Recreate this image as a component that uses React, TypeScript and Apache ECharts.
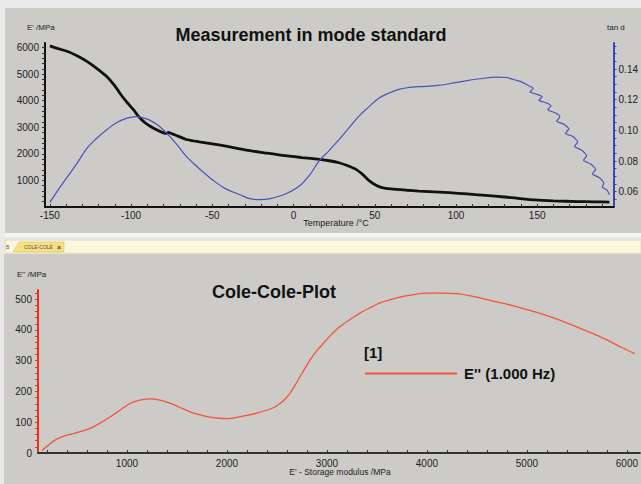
import React, { useEffect, useRef } from "react";
import * as echarts from "echarts";

// ---- Top chart: temperature sweep ----
const storageModulus: [number, number][] = [
  [-150, 6060], [-145, 5960], [-139, 5850], [-133, 5680], [-127, 5470], [-121, 5210],
  [-115, 4910], [-110, 4560], [-107, 4290], [-103, 3970], [-98.6, 3660], [-94.5, 3350],
  [-91, 3150], [-88, 3030], [-84, 2900], [-80, 2790], [-78, 2770], [-77, 2810], [-75, 2760],
  [-70, 2640], [-66, 2540], [-58, 2450], [-50, 2375], [-40, 2270], [-29, 2140], [-18, 2040],
  [-6.7, 1940], [5, 1860], [16, 1790], [22, 1740], [28, 1665], [33, 1560], [38.5, 1415],
  [43, 1200], [46.7, 980], [50.5, 830], [54.5, 730], [60, 680], [70, 630], [77, 600],
  [90, 560], [101.5, 515], [112, 465], [124, 410], [136, 340], [148.5, 265], [160, 230],
  [175, 205], [185, 195], [194.5, 185],
];

// tan d, smooth part
const tanDeltaMain: [number, number][] = [
  [-150, 0.053], [-145, 0.061], [-139, 0.07], [-133, 0.079], [-127, 0.0885], [-121, 0.095],
  [-115, 0.1004], [-109, 0.105], [-102.6, 0.108], [-96.5, 0.109], [-92, 0.108], [-88.3, 0.1065],
  [-83, 0.103], [-78, 0.098], [-72, 0.091], [-66, 0.083], [-58, 0.075], [-50, 0.0678],
  [-42, 0.062], [-33, 0.058], [-27, 0.0555], [-21, 0.0548], [-15, 0.0553], [-8.8, 0.057],
  [-3, 0.0595], [3.4, 0.0635], [10, 0.071], [15.7, 0.08], [22, 0.087], [28, 0.094],
  [34, 0.1015], [40, 0.109], [46, 0.115], [52.5, 0.121], [58, 0.124], [64.7, 0.1267],
  [71, 0.128], [77, 0.1285], [89, 0.1293], [101.5, 0.1315], [113.6, 0.1335], [125.9, 0.1348],
  [131, 0.1345], [136, 0.133], [140, 0.1318],
];
// tan d, wavy tail
const tanDeltaTail: [number, number][] = [
  [140, 0.1318], [145, 0.129], [147.5, 0.1275], [145.5, 0.125],
  [150, 0.1235], [153, 0.122], [151, 0.1195], [155.5, 0.118], [158.5, 0.116], [156.5, 0.1135],
  [161, 0.1115], [164, 0.109], [162, 0.106], [166.5, 0.104], [169.5, 0.101], [167.5, 0.098],
  [172, 0.096], [175, 0.0925], [173, 0.0895], [177.5, 0.087], [180.5, 0.0835], [178.5, 0.0805],
  [183, 0.078], [186, 0.0745], [184, 0.0715], [188.5, 0.069], [191, 0.0655], [190, 0.063],
  [193, 0.061], [194.5, 0.058],
];

const tempLabels = [-150, -100, -50, 0, 50, 100, 150];
const modulusLabels = [1000, 2000, 3000, 4000, 5000, 6000];
const tanLabels = [0.06, 0.08, 0.1, 0.12, 0.14];

// ---- Bottom chart: Cole-Cole plot ----
const coleCole: [number, number][] = [
  [150, 8], [200, 22], [280, 42], [397, 58], [500, 66], [630, 80], [730, 97], [830, 117],
  [930, 139], [1030, 161], [1130, 172], [1230, 176], [1330, 172], [1430, 162], [1530, 148],
  [1630, 134], [1730, 124], [1830, 117], [1930, 113], [2000, 112], [2100, 116], [2197, 122],
  [2300, 130], [2397, 139], [2470, 148], [2530, 161], [2580, 175], [2630, 194], [2680, 220],
  [2730, 248], [2780, 275], [2830, 302], [2880, 325], [2930, 344], [3030, 380], [3130, 411],
  [3230, 434], [3330, 455], [3430, 472], [3530, 488], [3650, 500], [3760, 509], [3880, 516],
  [4000, 520], [4150, 520], [4300, 518], [4450, 510], [4600, 499], [4760, 487], [4930, 473],
  [5100, 457], [5260, 440], [5430, 419], [5600, 396], [5720, 380], [5830, 363], [5950, 343],
  [6080, 323],
];
const storageLabels = [1000, 2000, 3000, 4000, 5000, 6000];
const lossLabels = [0, 100, 200, 300, 400, 500];

const steps = (from: number, to: number, step: number) => {
  const out: number[] = [];
  for (let v = from; v <= to + step / 1000; v += step) out.push(Math.round(v * 10000) / 10000);
  return out;
};

const FONT = "'Liberation Sans', Arial, sans-serif";
const PANEL = "#cccbc7";
const BLUE = "#4a53bb";
const plain = (v: number) => String(v);

export default function App() {
  const ref = useRef<HTMLDivElement>(null);
  useEffect(() => {
    if (!ref.current) return;
    const chart = echarts.init(ref.current, undefined, { renderer: "svg" });
    const lbl = { fontFamily: FONT, fontSize: 10, color: "#222" };
    chart.setOption({
      animation: false,
      backgroundColor: "#e9e9e9",
      textStyle: { fontFamily: FONT },
      grid: [
        { left: 45, top: 43, width: 571, height: 164 },
        { left: 38, top: 290, width: 602, height: 163 },
      ],
      xAxis: [
        {
          type: "value", gridIndex: 0, min: -153, max: 197,
          splitLine: { show: false },
          axisLine: { onZero: false, lineStyle: { color: "#111", width: 2 } },
          axisTick: { inside: true, length: 3, lineStyle: { color: "#333" }, customValues: steps(-150, 190, 10) },
          axisLabel: { ...lbl, margin: 3, customValues: tempLabels, formatter: plain },
        },
        {
          type: "value", gridIndex: 1, min: 110, max: 6130,
          splitLine: { show: false },
          axisLine: { onZero: false, lineStyle: { color: "#333", width: 2 } },
          axisTick: { inside: true, length: 3, lineStyle: { color: "#333" }, customValues: steps(200, 6000, 200) },
          axisLabel: { ...lbl, margin: 5, customValues: storageLabels, formatter: plain },
        },
      ],
      yAxis: [
        {
          type: "value", gridIndex: 0, min: 0, max: 6170,
          splitLine: { show: false },
          axisLine: { show: true, onZero: false, lineStyle: { color: "#111", width: 2 } },
          axisTick: { show: true, length: 3, lineStyle: { color: "#333" }, customValues: steps(200, 6000, 200) },
          axisLabel: { ...lbl, margin: 6, customValues: modulusLabels, formatter: plain },
        },
        {
          type: "value", gridIndex: 0, position: "right", min: 0.05, max: 0.157,
          splitLine: { show: false },
          axisLine: { show: true, onZero: false, lineStyle: { color: "#3b45b5", width: 2 } },
          axisTick: { show: true, length: 3, lineStyle: { color: "#3b45b5" }, customValues: steps(0.055, 0.155, 0.005) },
          axisLabel: { ...lbl, margin: 5, customValues: tanLabels, formatter: (v: number) => v.toFixed(2) },
        },
        {
          type: "value", gridIndex: 1, min: 0, max: 530,
          splitLine: { show: false },
          axisLine: { show: true, onZero: false, lineStyle: { color: "#f0301c", width: 2 } },
          axisTick: { show: true, length: 3, lineStyle: { color: "#f0301c" }, customValues: steps(20, 520, 20) },
          axisLabel: { ...lbl, margin: 6, customValues: lossLabels, formatter: plain },
        },
      ],
      legend: {
        data: [{ name: "E'' (1.000 Hz)" }],
        left: 360, top: 361,
        itemWidth: 92, itemHeight: 2, icon: "rect", itemGap: 0,
        textStyle: { fontFamily: FONT, fontSize: 15, fontWeight: "bold", color: "#111", padding: [0, 0, 0, 2] },
      },
      series: [
        {
          name: "E'", type: "line", xAxisIndex: 0, yAxisIndex: 0, data: storageModulus,
          showSymbol: false, smooth: 0.2, lineStyle: { color: "#111", width: 2.8 }, itemStyle: { color: "#111" }, z: 3,
        },
        {
          name: "tan d", type: "line", xAxisIndex: 0, yAxisIndex: 1, data: tanDeltaMain,
          showSymbol: false, smooth: 0.4, lineStyle: { color: BLUE, width: 1.2 }, itemStyle: { color: BLUE }, z: 4,
        },
        {
          name: "tan d tail", type: "line", xAxisIndex: 0, yAxisIndex: 1, data: tanDeltaTail,
          showSymbol: false, smooth: 0.15, lineStyle: { color: BLUE, width: 1.2 }, itemStyle: { color: BLUE }, z: 4,
        },
        {
          name: "E'' (1.000 Hz)", type: "line", xAxisIndex: 1, yAxisIndex: 2, data: coleCole,
          showSymbol: false, smooth: 0.3, lineStyle: { color: "#f2553c", width: 1.3 }, itemStyle: { color: "#f2553c" },
        },
      ],
      graphic: [
        { type: "rect", z: -10, shape: { x: 5, y: 8, width: 636, height: 225 }, style: { fill: PANEL } },
        { type: "rect", z: -10, shape: { x: 5, y: 233, width: 636, height: 4 }, style: { fill: "#f4f4f2" } },
        { type: "rect", z: -10, shape: { x: 5, y: 240, width: 636, height: 13 }, style: { fill: "#fbf7df", stroke: "#e2dcb8", lineWidth: 1 } },
        { type: "polygon", z: -9, shape: { points: [[13, 252], [19, 242], [64, 242], [64, 252]] }, style: { fill: "#f6df84", stroke: "#d9c46a", lineWidth: 0.6 } },
        { type: "text", z: -8, style: { x: 24, y: 247, text: "COLE-COLE", font: `5px ${FONT}`, fill: "#555", verticalAlign: "middle" } },
        { type: "text", z: -8, style: { x: 59, y: 247, text: "×", font: `bold 7px ${FONT}`, fill: "#444", verticalAlign: "middle", align: "center" } },
        { type: "text", z: -8, style: { x: 6, y: 247, text: "B", font: `5px ${FONT}`, fill: "#555", verticalAlign: "middle" } },
        { type: "rect", z: -10, shape: { x: 4, y: 254, width: 637, height: 230 }, style: { fill: PANEL } },
        { type: "text", style: { x: 311, y: 35, text: "Measurement in mode standard", font: `bold 18px ${FONT}`, fill: "#111", align: "center", verticalAlign: "middle" } },
        { type: "text", style: { x: 27, y: 27, text: "E' /MPa", font: `8px ${FONT}`, fill: "#222", verticalAlign: "middle" } },
        { type: "text", style: { x: 607, y: 27, text: "tan d", font: `8px ${FONT}`, fill: "#222", verticalAlign: "middle" } },
        { type: "text", style: { x: 336, y: 223, text: "Temperature /°C", font: `9px ${FONT}`, fill: "#222", align: "center", verticalAlign: "middle" } },
        { type: "text", style: { x: 274, y: 292, text: "Cole-Cole-Plot", font: `bold 18px ${FONT}`, fill: "#111", align: "center", verticalAlign: "middle" } },
        { type: "text", style: { x: 17, y: 274, text: "E'' /MPa", font: `8px ${FONT}`, fill: "#222", verticalAlign: "middle" } },
        { type: "text", style: { x: 340, y: 472, text: "E' - Storage modulus /MPa", font: `8.5px ${FONT}`, fill: "#222", align: "center", verticalAlign: "middle" } },
        { type: "text", style: { x: 364, y: 352, text: "[1]", font: `bold 15px ${FONT}`, fill: "#111", verticalAlign: "middle" } },
      ],
    });
    return () => chart.dispose();
  }, []);
  return <div ref={ref} style={{ position: "fixed", left: 0, top: 0, width: 641, height: 484 }} />;
}
